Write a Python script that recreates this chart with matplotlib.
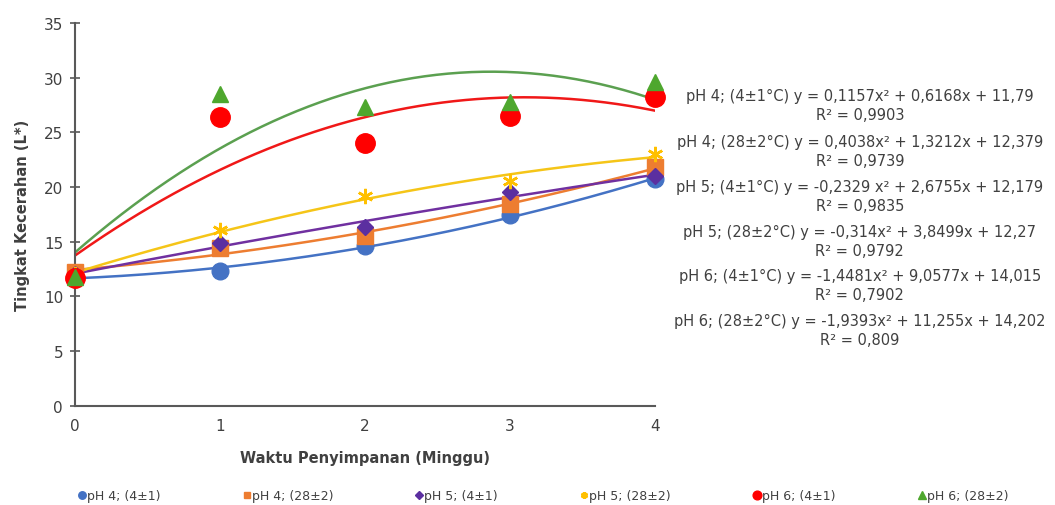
import matplotlib
matplotlib.use("Agg")
import matplotlib.pyplot as plt
import numpy as np

plt.rcParams["font.family"] = ["DejaVu Sans"]

# data
weeks = [0, 1, 2, 3, 4]
labels = ["pH 4; (4±1)", "pH 4; (28±2)", "pH 5; (4±1)",
          "pH 5; (28±2)", "pH 6; (4±1)", "pH 6; (28±2)"]
ph4_cold = [11.8, 12.3, 14.6, 17.4, 20.7]
ph4_warm = [12.2, 14.4, 15.5, 18.4, 21.8]
ph5_cold = [12.0, 14.9, 16.3, 19.5, 21.0]
ph5_warm = [12.0, 16.1, 19.2, 20.5, 23.0]
ph6_cold = [11.7, 26.4, 24.0, 26.5, 28.2]
ph6_warm = [11.8, 28.5, 27.3, 27.8, 29.6]

equations = [
    "pH 4; (4±1°C) y = 0,1157x² + 0,6168x + 11,79\nR² = 0,9903",
    "pH 4; (28±2°C) y = 0,4038x² + 1,3212x + 12,379\nR² = 0,9739",
    "pH 5; (4±1°C) y = -0,2329 x² + 2,6755x + 12,179\nR² = 0,9835",
    "pH 5; (28±2°C) y = -0,314x² + 3,8499x + 12,27\nR² = 0,9792",
    "pH 6; (4±1°C) y = -1,4481x² + 9,0577x + 14,015\nR² = 0,7902",
    "pH 6; (28±2°C) y = -1,9393x² + 11,255x + 14,202\nR² = 0,809",
]

series = [ph4_cold, ph4_warm, ph5_cold, ph5_warm, ph6_cold, ph6_warm]
# (marker, size, face colour, line colour)
styles = [
    ("o", 12, "#4472C4", "#4472C4"),
    ("s", 11, "#ED7D31", "#ED7D31"),
    ("D", 8, "#5B2FA0", "#7030A0"),
    ((6, 2, 0), 11, "#FFC000", "#F5C518"),
    ("o", 14, "#FF0000", "#F01818"),
    ("^", 12, "#4EA72E", "#5BA050"),
]

fig = plt.figure(figsize=(10.55, 5.06), dpi=100)
ax = fig.add_axes([0.071, 0.196, 0.550, 0.757])

xs = np.linspace(0, 4, 200)
# polynomial trendlines (order 2), as in the spreadsheet
for ys, (mk, ms, fc, lc) in zip(series, styles):
    coef = np.polyfit(weeks, ys, 2)
    ax.plot(xs, np.polyval(coef, xs), color=lc, lw=1.8, zorder=2)

handles = []
for ys, lab, (mk, ms, fc, lc) in zip(series, labels, styles):
    if mk == (6, 2, 0):
        h, = ax.plot(weeks, ys, ls="none", marker=mk, ms=ms, mec=fc, mew=1.8,
                     label=lab, zorder=3, clip_on=False)
    else:
        h, = ax.plot(weeks, ys, ls="none", marker=mk, ms=ms, mfc=fc, mec=fc,
                     label=lab, zorder=3, clip_on=False)
    handles.append(h)

ax.set_xlim(0, 4)
ax.set_ylim(0, 35)
ax.set_xticks(weeks)
ax.set_yticks(range(0, 36, 5))
for s in ["top", "right"]:
    ax.spines[s].set_visible(False)
for s in ["left", "bottom"]:
    ax.spines[s].set_color("#595959")
    ax.spines[s].set_linewidth(1.5)
ax.tick_params(axis="y", direction="inout", length=7, width=1.2,
               color="#595959", labelsize=11, labelcolor="#404040", pad=5)
ax.tick_params(axis="x", length=0, labelsize=11, labelcolor="#404040", pad=9)
ax.set_xlabel("Waktu Penyimpanan (Minggu)", fontsize=10.5, fontweight="bold",
              color="#404040", labelpad=12)
ax.set_ylabel("Tingkat Kecerahan (L*)", fontsize=10.5, fontweight="bold",
              color="#404040", labelpad=10)

# trendline equations, stacked on the right
eq_y = [0.790, 0.700, 0.611, 0.522, 0.435, 0.346]
for yy, eq in zip(eq_y, equations):
    fig.text(0.815, yy, eq, ha="center", va="center", fontsize=10.5,
             color="#404040", linespacing=1.35)

leg = fig.legend(handles=handles, loc="lower center", ncol=6,
                 bbox_to_anchor=(0.515, -0.017), frameon=False, fontsize=9,
                 markerscale=0.45, handlelength=0.6, handletextpad=0.1,
                 columnspacing=6.6)
for t in leg.get_texts():
    t.set_color("#404040")

fig.savefig("out.png", dpi=100)
